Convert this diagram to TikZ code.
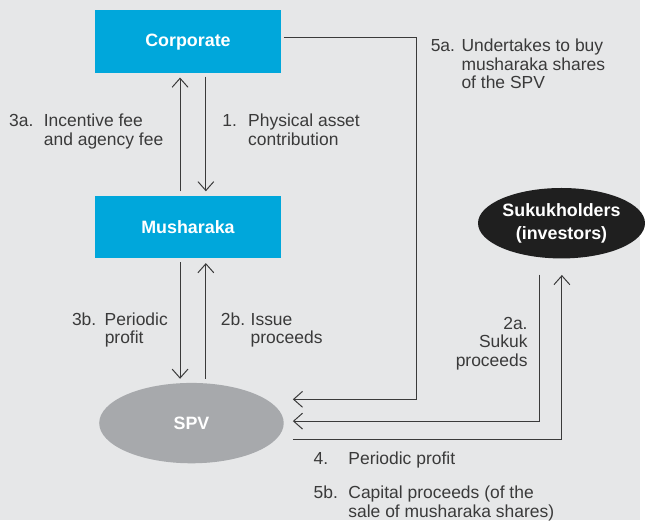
\documentclass[tikz,border=0pt]{standalone}
\usepackage{fontspec}
\setmainfont{Liberation Sans}
\usetikzlibrary{arrows.meta,shapes,positioning}
\definecolor{bggrey}{HTML}{E6E7E8}
\definecolor{boxblue}{HTML}{00A7DB}
\definecolor{spvgrey}{HTML}{A7A9AC}
\definecolor{inkgrey}{HTML}{3A3A3A}
\newcommand{\steptext}[3]{\makebox[#1][l]{#2}\begin{tabular}[t]{@{}l@{}}#3\end{tabular}}

\begin{document}
\begin{tikzpicture}[x=1pt,y=-1pt]
                    \tikzstyle{every node}+=[inner sep=0pt]
                    \tikzstyle{party}=[fill=boxblue, minimum width=187pt, minimum height=63pt, text=white, font=\bfseries\fontsize{18}{22}\selectfont]
                    \tikzstyle{oval}=[ellipse, text=white, align=center, font=\bfseries\fontsize{18}{23}\selectfont]
                    \tikzstyle{flow}=[draw=inkgrey, line width=1pt, -{Straight Barb[length=9pt,width=16pt]}]
                    \tikzstyle{steplabel}=[text=inkgrey, anchor=base west, font=\fontsize{17.6}{19}\selectfont]
                    \fill [bggrey] (0,0) rectangle (645,524);
                    \node [party] (corp) at (189.5,42) {Corporate};
                    \node [party] (mush) at (189.5,229) {Musharaka};
                    \node [oval, fill=spvgrey, minimum width=186pt, minimum height=81pt] (spv) at (193,426.5) {SPV};
                    \node [oval, fill=black!88, minimum width=158pt, minimum height=71pt] (sukuk) at (566,225) {Sukukholders\\(investors)};
                    \draw [flow] ([xshift=-8pt,yshift=4.5pt]mush.north) -- ([xshift=-8pt,yshift=-4.5pt]corp.south);
                    \draw [flow] ([xshift=18pt,yshift=-3.5pt]corp.south) -- ([xshift=18pt,yshift=4.5pt]mush.north);
                    \draw [flow] ([xshift=-8pt,yshift=-3.5pt]mush.south) -- ([xshift=-8pt,yshift=4pt]mush.south |- spv.north);
                    \draw [flow] ([xshift=18pt,yshift=4pt]mush.south |- spv.north) -- ([xshift=18pt,yshift=-4.5pt]mush.south);
                    \draw [flow] ([xshift=3pt,yshift=4pt]corp.east) -- ++(134,0) |- ([xshift=9pt,yshift=24pt]spv.east);
                    \draw [flow] ([xshift=-22pt,yshift=-16pt]sukuk.south) |- ([xshift=9pt,yshift=2pt]spv.east);
                    \draw [flow] ([xshift=9pt,yshift=-17pt]spv.east) -| ([xshift=0.4pt,yshift=-16.5pt]sukuk.south);
                    \node [steplabel] (l3a) at (9,128) {\steptext{35pt}{3a.}{Incentive fee\\and agency fee}};
                    \node [steplabel] (l1) at (224,128) {\steptext{26pt}{1.}{Physical asset\\contribution}};
                    \node [steplabel] (l5a) at (434,51.7) {\steptext{31pt}{5a.}{Undertakes to buy\\musharaka shares\\of the SPV}};
                    \node [steplabel] (l3b) at (72.4,327.7) {\steptext{33pt}{3b.}{Periodic\\profit}};
                    \node [steplabel] (l2b) at (222.5,327.7) {\steptext{30pt}{2b.}{Issue\\proceeds}};
                    \node [steplabel, anchor=base east] (l2a) at (532,331.7) {\begin{tabular}[t]{@{}r@{}}2a.\\Sukuk\\proceeds\end{tabular}};
                    \node [steplabel] (l4) at (316,468) {\steptext{35pt}{4.}{Periodic profit}};
                    \node [steplabel] (l5b) at (316,502.7) {\steptext{35pt}{5b.}{Capital proceeds (of the\\sale of musharaka shares)}};
\end{tikzpicture}
\end{document}
